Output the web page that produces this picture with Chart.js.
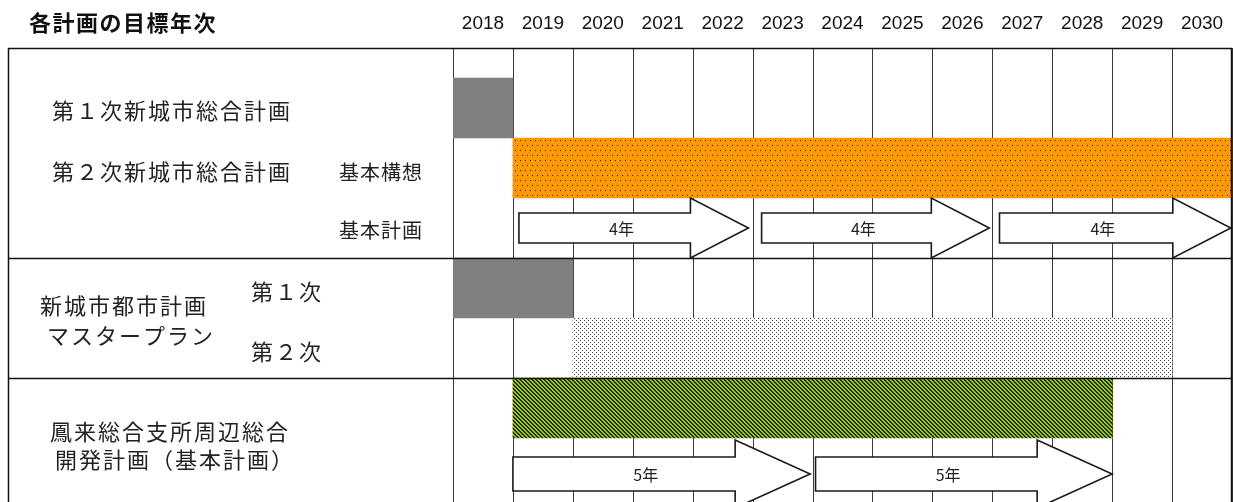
<!DOCTYPE html>
<html>
<head>
<meta charset="utf-8">
<script src="https://cdn.jsdelivr.net/npm/chart.js@4/dist/chart.umd.min.js"></script>
<style>
html,body{margin:0;padding:0;background:#fff;}
canvas{display:block;}
</style>
</head>
<body>
<canvas id="c" width="1233" height="502"></canvas>
<script>
// ---- data ----
const TITLE = '各計画の目標年次';
const YEARS = [2018, 2019, 2020, 2021, 2022, 2023, 2024, 2025, 2026, 2027, 2028, 2029, 2030];

// period bars (end = end of the last year)
const periodNames = ['第１次新城市総合計画', '基本構想', '都市計画MP 第１次', '都市計画MP 第２次', '鳳来総合支所周辺総合開発計画'];
const periodStart = [2018, 2019, 2018, 2020, 2019];
const periodEnd   = [2019, 2031, 2020, 2030, 2029];
const periodRow   = [1, 2, 4, 5, 6];

// arrows (基本計画 4年 / 5年)
const arrowStart = [2019.1, 2023.15, 2027.12];
const arrowEnd   = [2022.93, 2026.95, 2030.98];
const arrowRow   = [3, 3, 3];
const arrowText  = ['4年', '4年', '4年'];

const arrow5Start = [2019, 2024.05];
const arrow5End   = [2023.96, 2029];
const arrow5Row   = [7, 7];
const arrow5Text  = ['5年', '5年'];

// left-hand labels
const labelTexts = ['第１次新城市総合計画', '第２次新城市総合計画', '基本構想', '基本計画',
  '新城市都市計画', 'マスタープラン', '第１次', '第２次',
  '鳳来総合支所周辺総合', '開発計画（基本計画）'];

// ---- layout / style ----
const labelPos = [
  [52, 111, 22, 2], [52, 172, 22, 2], [339, 172, 20, 1], [339, 230, 20, 1],
  [40, 306, 22, 2], [47, 336, 22, 2], [251, 292, 22, 2], [251, 352, 22, 2],
  [50, 432, 22, 2], [55, 460, 22, 2]
];
const CJK = '"Noto Sans CJK JP", "Noto Sans", sans-serif';

const canvas = document.getElementById('c');
const ctx = canvas.getContext('2d');

function makePattern(w, h, bg, fg, test) {
  const c = document.createElement('canvas');
  c.width = w; c.height = h;
  const g = c.getContext('2d');
  const img = g.createImageData(w, h);
  for (let y = 0; y < h; y++) for (let x = 0; x < w; x++) {
    const col = test(x, y) ? fg : bg;
    const i = (y * w + x) * 4;
    img.data[i] = col[0]; img.data[i + 1] = col[1]; img.data[i + 2] = col[2]; img.data[i + 3] = 255;
  }
  g.putImageData(img, 0, 0);
  return ctx.createPattern(c, 'repeat');
}
const orangeDots = makePattern(10, 10, [255, 153, 0], [40, 28, 5],
  (x, y) => (y === 0 && (x === 0 || x === 5)) || (y === 5 && (x === 2 || x === 7)));
const lightDots = makePattern(4, 4, [255, 255, 255], [70, 70, 70],
  (x, y) => (x === 0 && y === 0) || (x === 2 && y === 2));
const greenHatch = makePattern(4, 4, [153, 204, 0], [35, 45, 0],
  (x, y) => (((x - y) % 4) + 4) % 4 < 2);

const periodColors = ['#808080', orangeDots, '#808080', lightDots, greenHatch];

const periodData = periodStart.map((s, i) => ({ x: [s, periodEnd[i]], y: periodRow[i] }));
const arrowData = arrowStart.map((s, i) => ({ x: [s, arrowEnd[i]], y: arrowRow[i] }));
const arrow5Data = arrow5Start.map((s, i) => ({ x: [s, arrow5End[i]], y: arrow5Row[i] }));

const gridPlugin = {
  id: 'yeargrid',
  beforeDatasetsDraw(chart) {
    const c = chart.ctx;
    const xs = chart.scales.x, ys = chart.scales.y;
    const top = ys.getPixelForValue(0), bottom = chart.height;
    c.save();
    c.strokeStyle = '#3a3a3a';
    c.lineWidth = 1;
    for (let yr = YEARS[0]; yr <= YEARS[YEARS.length - 1] + 1; yr++) {
      const x = Math.round(xs.getPixelForValue(yr)) + 0.5;
      c.beginPath(); c.moveTo(x, top); c.lineTo(x, bottom); c.stroke();
    }
    c.restore();
  }
};

const arrowPlugin = {
  id: 'arrows',
  afterDatasetsDraw(chart) {
    const c = chart.ctx;
    chart.data.datasets.forEach((ds, di) => {
      if (!ds.arrow) return;
      const meta = chart.getDatasetMeta(di);
      meta.data.forEach((el, i) => {
        const x0 = el.base, x1 = el.x, cy = el.y + ds.arrow.dy;
        const bh = ds.arrow.body / 2, hh = ds.arrow.head / 2, hl = ds.arrow.len;
        const xb = x1 - hl;
        c.save();
        c.beginPath();
        c.moveTo(x0, cy - bh);
        c.lineTo(xb, cy - bh);
        c.lineTo(xb, cy - hh);
        c.lineTo(x1, cy);
        c.lineTo(xb, cy + hh);
        c.lineTo(xb, cy + bh);
        c.lineTo(x0, cy + bh);
        c.closePath();
        c.fillStyle = '#fff';
        c.fill();
        c.lineWidth = 1.6;
        c.strokeStyle = '#1a1a1a';
        c.lineJoin = 'miter';
        c.stroke();
        c.fillStyle = '#222';
        c.font = '16px ' + CJK;
        c.textAlign = 'center';
        c.textBaseline = 'middle';
        c.fillText(ds.texts[i], x0 + (x1 - x0) * 0.447, cy + 1);
        c.restore();
      });
    });
  }
};

const framePlugin = {
  id: 'frame',
  beforeDraw(chart) {
    const c = chart.ctx;
    c.save();
    c.fillStyle = '#fff';
    c.fillRect(0, 0, chart.width, chart.height);
    c.restore();
  },
  afterDraw(chart) {
    const c = chart.ctx;
    const xs = chart.scales.x, ys = chart.scales.y;
    const left = 8, right = xs.getPixelForValue(2031);
    c.save();
    c.strokeStyle = '#111';
    c.lineWidth = 1.5;
    [0, 3.5, 5.5].forEach(v => {
      const y = Math.round(ys.getPixelForValue(v)) + 0.5;
      c.beginPath(); c.moveTo(left, y); c.lineTo(right, y); c.stroke();
    });
    c.beginPath();
    c.moveTo(left + 0.5, ys.getPixelForValue(0));
    c.lineTo(left + 0.5, chart.height);
    c.stroke();
    c.beginPath();
    c.moveTo(Math.round(right) - 0.5, ys.getPixelForValue(0));
    c.lineTo(Math.round(right) - 0.5, chart.height);
    c.stroke();

    // title
    c.fillStyle = '#111';
    c.textBaseline = 'middle';
    c.textAlign = 'left';
    c.font = 'bold 22px ' + CJK;
    c.letterSpacing = '1.5px';
    c.fillText(TITLE, 29, 23);

    // year labels
    c.letterSpacing = '0px';
    c.font = '19px "Liberation Sans", Arial, sans-serif';
    c.textAlign = 'center';
    c.fillStyle = '#111';
    YEARS.forEach(yr => {
      c.fillText(String(yr), xs.getPixelForValue(yr + 0.5), 24);
    });

    // left labels
    c.textAlign = 'left';
    c.fillStyle = '#222';
    labelTexts.forEach((t, i) => {
      const [x, y, sz, sp] = labelPos[i];
      c.font = sz + 'px ' + CJK;
      c.letterSpacing = sp + 'px';
      c.fillText(t, x, y);
    });
    c.restore();
  }
};

new Chart(ctx, {
  type: 'bar',
  data: {
    datasets: [
      {
        label: 'periods',
        data: periodData,
        backgroundColor: periodColors,
        borderWidth: 0,
        barThickness: 60,
        grouped: false
      },
      {
        label: 'arrows4',
        data: arrowData,
        backgroundColor: 'rgba(0,0,0,0)',
        borderWidth: 0,
        barThickness: 30,
        grouped: false,
        arrow: { body: 30, head: 60, len: 58, dy: 0 },
        texts: arrowText
      },
      {
        label: 'arrows5',
        data: arrow5Data,
        backgroundColor: 'rgba(0,0,0,0)',
        borderWidth: 0,
        barThickness: 34,
        grouped: false,
        arrow: { body: 34, head: 68, len: 75, dy: 6 },
        texts: arrow5Text
      }
    ]
  },
  options: {
    indexAxis: 'y',
    responsive: false,
    animation: false,
    layout: { padding: { left: 453, top: 48, right: 1, bottom: 0 } },
    scales: {
      x: { type: 'linear', min: 2018, max: 2031, display: false, offset: false },
      y: { type: 'linear', reverse: true, min: 0, max: 454 / 60, display: false, offset: false, grid: { offset: false } }
    },
    plugins: { legend: { display: false }, tooltip: { enabled: false } }
  },
  plugins: [framePlugin, gridPlugin, arrowPlugin]
});
</script>
</body>
</html>
